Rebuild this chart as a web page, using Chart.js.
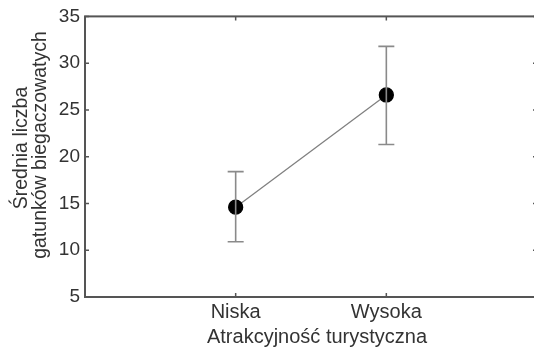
<!DOCTYPE html>
<html>
<head>
<meta charset="utf-8">
<script src="https://cdn.jsdelivr.net/npm/chart.js@4/dist/chart.umd.min.js"></script>
<style>
  html, body { margin: 0; padding: 0; background: #fff; overflow: hidden; }
</style>
</head>
<body>
<canvas id="grafico" width="540" height="348"></canvas>
<script>
// dane
const kategorie = ["", "Niska", "Wysoka", ""];
const srednie = [null, 14.6, 26.6, null];
const gorne = [null, 18.4, 31.8, null];
const dolne = [null, 10.9, 21.3, null];
const yTicks = [5, 10, 15, 20, 25, 30, 35];

const tytulX = "Atrakcyjność turystyczna";
const tytulY = ["Średnia liczba", "gatunków biegaczowatych"];

const FONT = "'Liberation Sans', Arial, sans-serif";
const kolorOsi = "#555";
const kolorTekstu = "#333";

// slupki bledow, ramka, wewnetrzne kreski i tytuly osi
const ramkaPlugin = {
  id: "ramka",
  afterDatasetsDraw(chart){
    const ctx = chart.ctx;
    const x = chart.scales.x, y = chart.scales.y;
    const a = chart.chartArea;
    ctx.save();

    // error bars
    ctx.strokeStyle = "#8a8a8a";
    ctx.lineWidth = 1.6;
    srednie.forEach((v, i) => {
      if(v === null) return;
      const px = x.getPixelForValue(i);
      const top = y.getPixelForValue(gorne[i]);
      const bot = y.getPixelForValue(dolne[i]);
      ctx.beginPath();
      ctx.moveTo(px, top); ctx.lineTo(px, bot);
      ctx.moveTo(px - 8, top); ctx.lineTo(px + 8, top);
      ctx.moveTo(px - 8, bot); ctx.lineTo(px + 8, bot);
      ctx.stroke();
    });

    // ramka
    ctx.strokeStyle = kolorOsi;
    ctx.lineWidth = 2;
    ctx.strokeRect(a.left, a.top, a.right - a.left, a.bottom - a.top);

    // kreski do srodka
    ctx.lineWidth = 1.5;
    ctx.beginPath();
    yTicks.forEach(t => {
      const py = y.getPixelForValue(t);
      ctx.moveTo(a.left, py); ctx.lineTo(a.left + 4, py);
      ctx.moveTo(a.right, py); ctx.lineTo(a.right - 4, py);
    });
    [1, 2].forEach(i => {
      const px = x.getPixelForValue(i);
      ctx.moveTo(px, a.bottom); ctx.lineTo(px, a.bottom - 4);
      ctx.moveTo(px, a.top); ctx.lineTo(px, a.top + 4);
    });
    ctx.stroke();
    ctx.restore();
  },
  afterDraw(chart){
    const ctx = chart.ctx;
    ctx.save();
    ctx.fillStyle = kolorTekstu;
    ctx.font = "20px " + FONT;
    ctx.textAlign = "center";
    ctx.textBaseline = "alphabetic";
    ctx.fillText(tytulX, 317, 343);

    ctx.font = "19.5px " + FONT;
    ctx.rotate(-Math.PI / 2);
    ctx.fillText(tytulY[0], -148, 27);
    ctx.fillText(tytulY[1], -145, 46);
    ctx.restore();
  }
};

const ctx = document.getElementById("grafico").getContext("2d");
new Chart(ctx, {
  type: "line",
  data: {
    labels: kategorie,
    datasets: [{
      data: srednie,
      borderColor: "#808080",
      borderWidth: 1.3,
      pointRadius: 7,
      pointBackgroundColor: "#000",
      pointBorderColor: "#000",
      spanGaps: false,
      tension: 0
    }]
  },
  options: {
    responsive: false,
    animation: false,
    layout: { autoPadding: false, padding: { top: 14, right: 2, left: 0, bottom: 0 } },
    plugins: { legend: { display: false }, tooltip: { enabled: false } },
    scales: {
      x: {
        offset: false,
        grid: { display: false, drawTicks: false },
        border: { display: false },
        ticks: { color: kolorTekstu, font: { family: FONT, size: 20 }, padding: 3, maxRotation: 0, autoSkip: false },
        afterFit(s){ s.height = 51; }
      },
      y: {
        min: 5, max: 35,
        grid: { display: false, drawTicks: false },
        border: { display: false },
        ticks: { stepSize: 5, color: kolorTekstu, font: { family: FONT, size: 19 }, padding: 5 },
        afterFit(s){ s.width = 85; }
      }
    }
  },
  plugins: [ramkaPlugin]
});
</script>
</body>
</html>
